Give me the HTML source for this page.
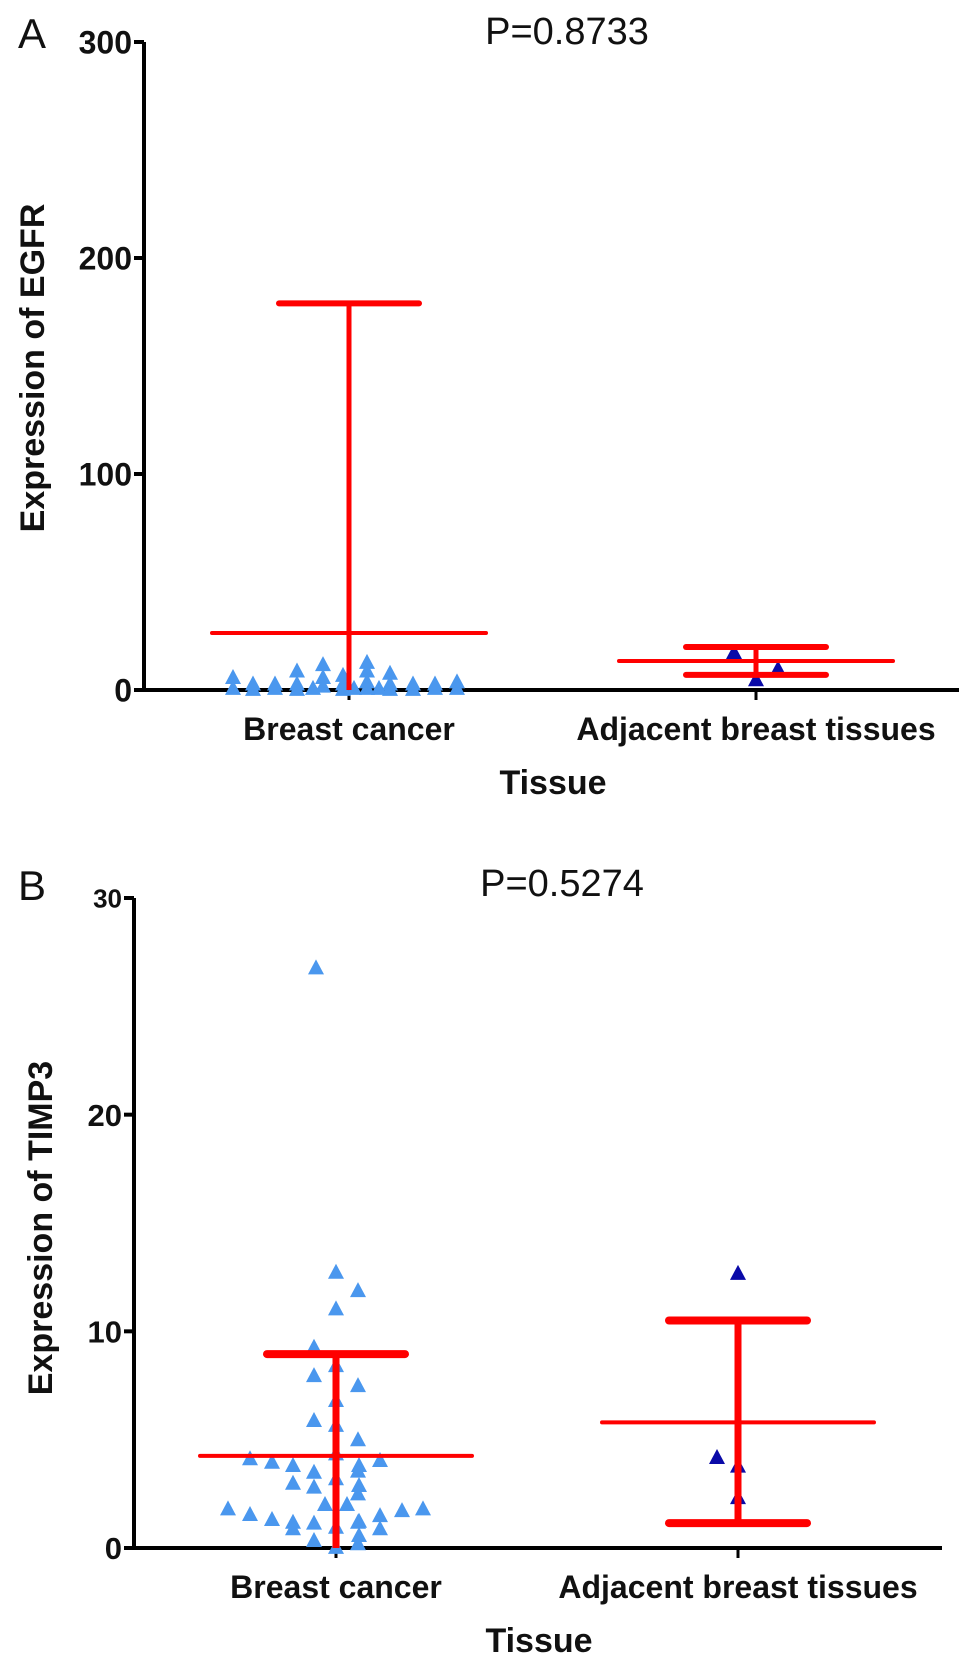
<!DOCTYPE html>
<html><head><meta charset="utf-8"><style>
html,body{margin:0;padding:0;background:#fff;}
svg text{font-family:"Liberation Sans",Arial,sans-serif;}
</style></head><body>
<svg id="fig" width="969" height="1670" viewBox="0 0 969 1670" xmlns="http://www.w3.org/2000/svg">
</svg>
<script>
// ---- Panel A data (EGFR) ----
const categories = ["Breast cancer", "Adjacent breast tissues"];
const ticksA = [0, 100, 200, 300];
const cancerA_jitter = [-116,-116,-96,-96,-74,-74,-52,-52,-52,-26,-26,-26,-6,-6,-6,18,18,18,18,41,41,41,64,64,86,86,108,108,-36,30,5];
const cancerA_values = [6,1,3,0.5,3,1,9,3,0.5,12,6,2,7,3,0.5,13,9,4,1,8,3,0.5,3,0.5,3,1,4,1,1,1,1];
const adjA_jitter = [-22,0,22];
const adjA_values = [17.6,5,10];
const meanA = [26.4, 13.4];
const sdHighA = [179, 19.9];
const sdLowA = [0, 7.0];
// ---- Panel B data (TIMP3) ----
const ticksB = [0, 10, 20, 30];
const cancerB_jitter = [-20,0,22,0,-22,-22,0,22,0,-22,0,22,-86,-64,-43,0,44,23,-22,22,-43,-22,0,23,22,-11,11,-108,-86,-64,-43,-43,-22,0,22,23,44,44,66,87,23,-22,22,0];
const cancerB_values = [26.8,12.75,11.9,11.06,9.29,7.98,8.44,7.52,6.83,5.91,5.68,5.02,4.14,3.98,3.83,4.37,4.06,3.83,3.52,3.57,3.01,2.83,3.22,2.91,2.52,2.03,2.03,1.83,1.57,1.34,1.21,0.91,1.17,0.98,1.21,1.26,1.52,0.91,1.75,1.83,0.6,0.37,0.22,0.05];
const adjB_jitter = [0,-21,0,0];
const adjB_values = [12.7,4.2,3.8,2.35];
const meanB = [4.25, 5.8];
const sdHighB = [8.95, 10.5];
const sdLowB = [0, 1.15];

const NS = "http://www.w3.org/2000/svg";
const svg = document.getElementById('fig');
function mk(tag, attrs, parent, text){
  const e = document.createElementNS(NS, tag);
  for (const k in attrs) e.setAttribute(k, attrs[k]);
  if (text !== undefined) e.textContent = text;
  (parent || svg).appendChild(e);
  return e;
}

function panel(cfg){
  const g = mk('g', {});
  
  
  const y = v => cfg.y0 - (v - 0) * (cfg.y0 - cfg.yTop) / cfg.max;
  const x = i => cfg.cats[i];
  const L = mk('text', {x: cfg.letterX, y: cfg.letterY, 'font-size': 42, fill: '#111'}, g, cfg.letter);
  
  
  const P = mk('text', {x: cfg.pX, y: cfg.pY, 'font-size': 38, 'text-anchor': 'middle', fill: '#111'}, g, cfg.p);
  
  
  const ya = mk('line', {x1: cfg.ax, y1: y(cfg.max), x2: cfg.ax, y2: cfg.y0 + 2, stroke: '#000', 'stroke-width': 4}, g);
  
  
  cfg.ticks.forEach((t, k) => {
    const tl = mk('line', {x1: cfg.ax - 10, y1: y(t), x2: cfg.ax, y2: y(t), stroke: '#000', 'stroke-width': 4}, g);
    
    
    const fs = (cfg.smallTop && k === cfg.ticks.length - 1) ? 26 : cfg.tickFont;
    const tt = mk('text', {x: cfg.ax - 12, y: y(t) + fs * 0.36, 'font-size': fs, 'font-weight': 'bold', 'text-anchor': 'end', fill: '#111'}, g, String(t));
    
    
  });
  const xa = mk('line', {x1: cfg.ax - 2, y1: cfg.y0, x2: cfg.xEnd, y2: cfg.y0, stroke: '#000', 'stroke-width': 4}, g);
  
  
  categories.forEach((c, i) => {
    const tk = mk('line', {x1: x(i), y1: cfg.y0, x2: x(i), y2: cfg.y0 + 10, stroke: '#000', 'stroke-width': 3}, g);
    
    
    const ct = mk('text', {x: x(i), y: cfg.y0 + 50, 'font-size': 32, 'font-weight': 'bold', 'text-anchor': 'middle', fill: '#111'}, g, c);
    
    
  });
  const xt = mk('text', {x: cfg.tissueX, y: cfg.y0 + 104, 'font-size': 34, 'font-weight': 'bold', 'text-anchor': 'middle', fill: '#111'}, g, 'Tissue');
  
  
  const yt = mk('text', {x: 0, y: 0, 'font-size': 34, 'font-weight': 'bold', 'text-anchor': 'middle', fill: '#111', transform: `translate(${cfg.yTitleX},${cfg.yTitleY}) rotate(-90)`}, g, cfg.yTitle);
  
  
  function tri(cx, v, color){
    const cy = y(v), h = 14, w = 16;
    const p = mk('polygon', {points: `${cx},${cy - h/2 - 1} ${cx - w/2},${cy + h/2} ${cx + w/2},${cy + h/2}`, fill: color}, g);
    
    
  }
  cfg.cancerVals.forEach((v, i) => tri(x(0) + cfg.cancerJit[i], v, '#4a97ee'));
  cfg.adjVals.forEach((v, i) => tri(x(1) + cfg.adjJit[i], v, '#0a0aa8'));
  [0, 1].forEach(i => {
    const cx = x(i);
    const vl = mk('line', {x1: cx, y1: y(cfg.hi[i]), x2: cx, y2: y(cfg.lo[i]), stroke: '#ff0000', 'stroke-width': cfg.vw}, g);
    
    
    [cfg.hi[i], cfg.lo[i]].forEach(v => {
      if (v <= 0) return;
      const cp = mk('line', {x1: cx - cfg.capHalf, y1: y(v), x2: cx + cfg.capHalf, y2: y(v), stroke: '#ff0000', 'stroke-width': cfg.capW, 'stroke-linecap': 'round'}, g);
      
      
    });
    const ml = mk('line', {x1: cx - cfg.meanHalf, y1: y(cfg.mean[i]), x2: cx + cfg.meanHalf, y2: y(cfg.mean[i]), stroke: '#ff0000', 'stroke-width': 4, 'stroke-linecap': 'round'}, g);
    
    
  });
}

panel({name: 'panel-a-egfr', letter: 'A', letterX: 18, letterY: 48, p: 'P=0.8733', pX: 567, pY: 44,
  ax: 144, y0: 690, yTop: 42, max: 300, xEnd: 959, cats: [349, 756], ticks: ticksA, tickFont: 32,
  tissueX: 553, yTitle: 'Expression of EGFR', yTitleX: 44, yTitleY: 368,
  cancerVals: cancerA_values, cancerJit: cancerA_jitter, adjVals: adjA_values, adjJit: adjA_jitter,
  mean: meanA, hi: sdHighA, lo: sdLowA, vw: 5, capW: 6, capHalf: 70, meanHalf: 137});

panel({name: 'panel-b-timp3', letter: 'B', letterX: 18, letterY: 900, p: 'P=0.5274', pX: 562, pY: 896,
  ax: 134, y0: 1548, yTop: 898, max: 30, xEnd: 942, cats: [336, 738], ticks: ticksB, tickFont: 31, smallTop: true,
  tissueX: 539, yTitle: 'Expression of TIMP3', yTitleX: 52, yTitleY: 1228,
  cancerVals: cancerB_values, cancerJit: cancerB_jitter, adjVals: adjB_values, adjJit: adjB_jitter,
  mean: meanB, hi: sdHighB, lo: sdLowB, vw: 7, capW: 8, capHalf: 69, meanHalf: 136});
</script>
</body></html>
